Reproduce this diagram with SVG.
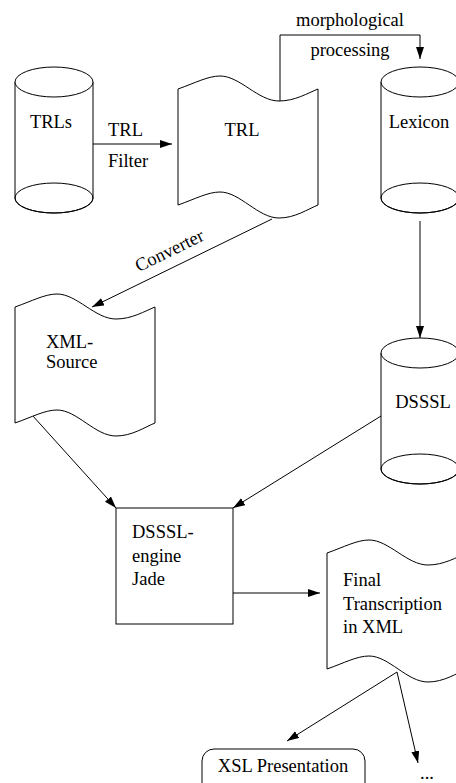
<svg xmlns="http://www.w3.org/2000/svg" width="456" height="783" viewBox="0 0 456 783">
<style>
.s{fill:#fff;stroke:#000;stroke-width:1}
.c{fill:none;stroke:#000;stroke-width:1}
text{font-family:'Liberation Serif','DejaVu Serif',serif;font-size:18.5px;fill:#000}
.m{text-anchor:middle}
</style>
<defs>
<marker id="ah" markerUnits="userSpaceOnUse" markerWidth="13" markerHeight="9" refX="12" refY="4" orient="auto">
<path d="M0,0 L12,4 L0,8 Z" fill="#000"/>
</marker>
<path id="doc" d="M0,0 C17,-6 30,-13 42,-13 C62,-13 80,12 101,12 C117,12 130,4 140,0 L140,116 C130,120 117,129 101,129 C80,129 62,103 42,103 C30,103 17,110 0,116 Z"/>
</defs>
<rect width="456" height="783" fill="#fff"/>
<g id="connectors" class="c">
<path d="M93,144 L172,144" marker-end="url(#ah)"/>
<path d="M280,101 V35 H420 V59" marker-end="url(#ah)"/>
<path d="M272,219 L92,307" marker-end="url(#ah)"/>
<path d="M420,221 V338" marker-end="url(#ah)"/>
<path d="M32,415 L116,508" marker-end="url(#ah)"/>
<path d="M381,416 L233,508" marker-end="url(#ah)"/>
<path d="M233,593 L320,593" marker-end="url(#ah)"/>
<path d="M397,672 L287,741" marker-end="url(#ah)"/>
<path d="M397,672 L418,763" marker-end="url(#ah)"/>
</g>
<g id="labels">
<text x="108" y="136" font-family="Liberation Serif, serif">TRL</text>
<text x="108" y="167">Filter</text>
<text class="m" x="350" y="26">morphological</text>
<text class="m" x="350" y="56">processing</text>
<text class="m" transform="translate(172,256) rotate(-26)">Converter</text>
</g>
<g id="trls">
<path class="s" d="M15,82 V198 A39,15 0 0 0 93,198 V82"/>
<ellipse class="s" cx="54" cy="82" rx="39" ry="15"/>
<ellipse class="c" cx="54" cy="198" rx="39" ry="15"/>
<text class="m" x="51" y="128">TRLs</text>
</g>
<g id="trl">
<use href="#doc" class="s" transform="translate(178,89)"/>
<text class="m" x="242" y="136">TRL</text>
</g>
<g id="lexicon">
<path class="s" d="M381,82 V198 A39,15 0 0 0 459,198 V82"/>
<ellipse class="s" cx="420" cy="82" rx="39" ry="15"/>
<ellipse class="c" cx="420" cy="198" rx="39" ry="15"/>
<text class="m" x="419" y="128">Lexicon</text>
</g>
<g id="xml-source">
<use href="#doc" class="s" transform="translate(15,307)"/>
<text x="46" y="348">XML-</text>
<text x="46" y="368">Source</text>
</g>
<g id="dsssl">
<path class="s" d="M381,353 V469 A39,15 0 0 0 459,469 V353"/>
<ellipse class="s" cx="420" cy="353" rx="39" ry="15"/>
<ellipse class="c" cx="420" cy="469" rx="39" ry="15"/>
<text class="m" x="423" y="408">DSSSL</text>
</g>
<g id="engine">
<rect class="s" x="116" y="508" width="117" height="116"/>
<text x="132" y="538">DSSSL-</text>
<text x="132" y="562">engine</text>
<text x="132" y="585">Jade</text>
</g>
<g id="final">
<use href="#doc" class="s" transform="translate(327,553)"/>
<text x="343" y="586">Final</text>
<text x="343" y="610">Transcription</text>
<text x="343" y="633">in XML</text>
</g>
<g id="xsl">
<rect class="s" x="202" y="749" width="163" height="50" rx="12"/>
<text class="m" x="283" y="772">XSL Presentation</text>
</g>
<g id="more">
<text class="m" x="427" y="779">...</text>
</g>
</svg>
